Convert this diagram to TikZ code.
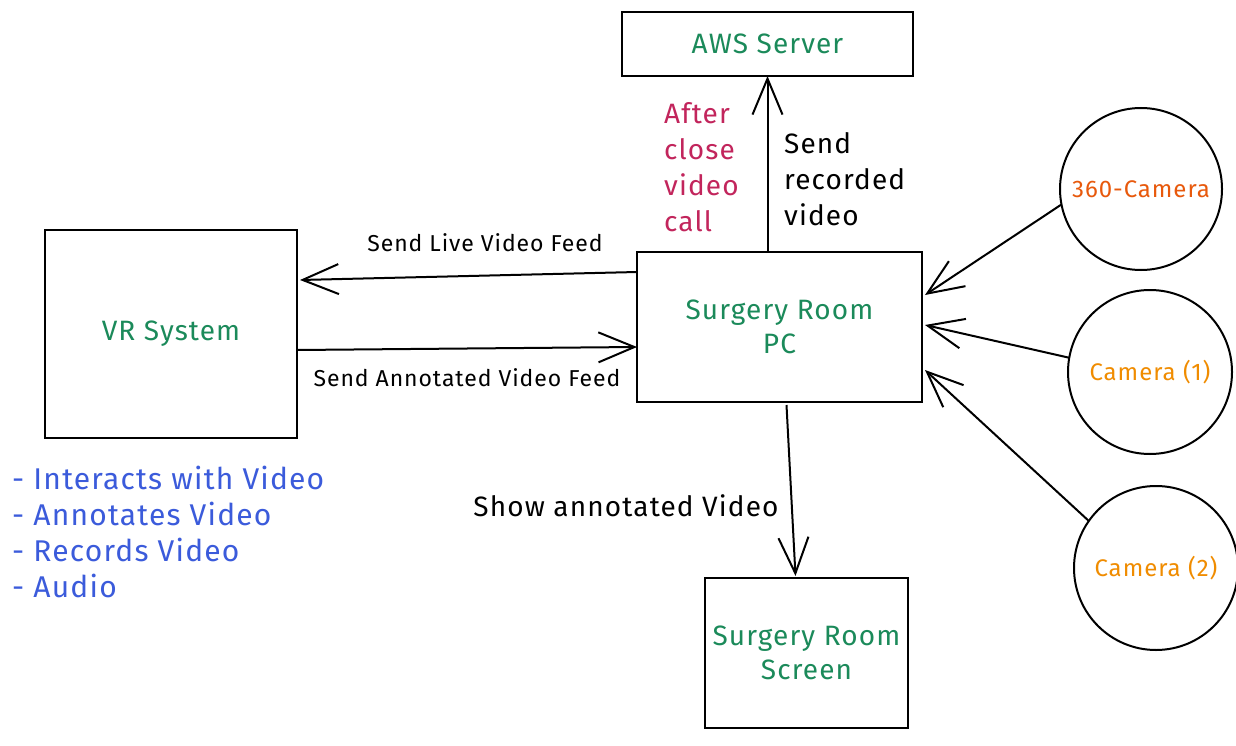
\documentclass[tikz,border=0pt]{standalone}
\usepackage{fontspec}
\setmainfont{Fira Sans}[LetterSpace=4]
\usetikzlibrary{arrows.meta,calc}
\definecolor{nodegreen}{HTML}{1B8A5A}
\definecolor{notecrimson}{HTML}{C2255C}
\definecolor{listblue}{HTML}{3B5BDB}
\definecolor{camred}{HTML}{E8590C}
\definecolor{camorange}{HTML}{F08C00}
\tikzset{
  box/.style={draw=black, line width=2pt, inner sep=0pt, outer sep=0pt, align=center,
    text=nodegreen, font=\fontsize{28}{34}\selectfont},
  cam/.style={draw=black, line width=2pt, circle, inner sep=0pt, outer sep=0pt,
    font=\fontsize{24}{24}\selectfont},
  link/.style={draw=black, line width=2pt, -{Straight Barb[length=36pt,width=30pt,line width=2pt]}},
  lbl/.style={inner sep=0pt, font=\fontsize{23}{24}\selectfont},
  biglbl/.style={inner sep=0pt, font=\fontsize{28}{36}\selectfont, align=left}
}
\begin{document}
\begin{tikzpicture}[x=1pt,y=-1pt]
\useasboundingbox (0,0) rectangle (1236,746);
\fill[white] (0,0) rectangle (1236,746);

% main boxes
\node[box, minimum width=291pt, minimum height=64pt] (aws) at (767.5,44) {AWS Server};
\node[box, minimum width=285pt, minimum height=150pt] (pc) at (779.5,327) {Surgery Room\\PC};
\node[box, minimum width=252pt, minimum height=208pt] (vr) at (171,334) {VR System};
\node[box, minimum width=203pt, minimum height=150pt] (screen) at (806.5,653) {Surgery Room\\Screen};

% cameras
\node[cam, minimum size=162pt, text=camred] (c360) at (1141,189) {360-Camera};
\node[cam, minimum size=164pt, text=camorange] (cam1) at (1150,372) {Camera (1)};
\node[cam, minimum size=164pt, text=camorange] (cam2) at (1156,568) {Camera (2)};

% connectors
\draw[link] (pc.north -| aws.south) -- (aws.south);
\draw[link] ($(pc.west)+(0,-55)$) -- ($(vr.east)+(3,-54)$);
\draw[link] ($(vr.east)+(0,16)$) -- ($(pc.west)+(0,20)$);
\draw[link] ($(pc.south)+(7,3)$) -- ($(screen.north)+(-11,-2)$);
\draw[link] (c360.191) -- ($(pc.east)+(3,-32)$);
\draw[link] (cam1.170) -- ($(pc.east)+(3,-2)$);
\draw[link] (cam2.145) -- ($(pc.east)+(3,43)$);

% connector labels
\node[lbl] (lLive) at (485,243) {Send Live Video Feed};
\node[lbl] (lAnn) at (467,378) {Send Annotated Video Feed};
\node[lbl, font=\fontsize{28}{30}\selectfont] (lShow) at (626,506) {Show annotated Video};
\node[biglbl, text=notecrimson, anchor=north west] (lAfter) at (664,102) {After\\close\\video\\call};
\node[biglbl, anchor=north west] (lRec) at (784,132) {Send\\recorded\\video};

% capability list
\node[biglbl, font=\fontsize{30}{36}\selectfont, text=listblue, anchor=north west] (vrlist) at (12,466)
  {- Interacts with Video\\- Annotates Video\\- Records Video\\- Audio};
\end{tikzpicture}
\end{document}
